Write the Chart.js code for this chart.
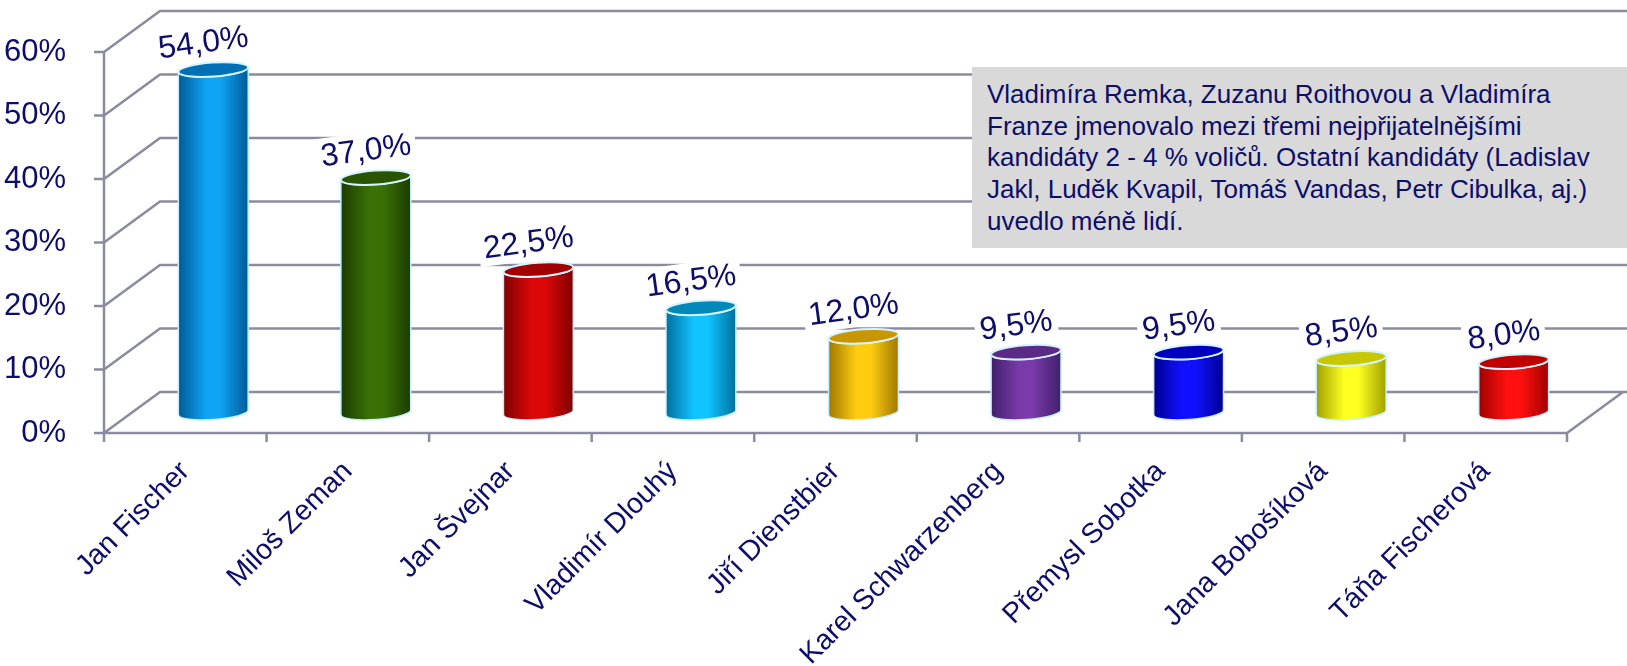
<!DOCTYPE html>
<html lang="cs">
<head>
<meta charset="utf-8">
<script src="https://cdn.jsdelivr.net/npm/chart.js@4.4.1/dist/chart.umd.min.js"></script>
<style>
  html, body { margin: 0; padding: 0; background: #fff; }
  #wrap { position: relative; width: 1627px; height: 666px; }
  #note {
    position: absolute; left: 972px; top: 67px; width: 640px; height: 169px;
    padding: 12px 0 0 15px; background: #d9d9d9; color: #0d0d6b;
    font: 26px "Liberation Sans", Arial, sans-serif; line-height: 31.7px; white-space: nowrap;
  }
</style>
</head>
<body>
<div id="wrap">
  <canvas id="chart"></canvas>
  <div id="note">Vladimíra Remka, Zuzanu Roithovou a Vladimíra<br>Franze jmenovalo mezi třemi nejpřijatelnějšími<br>kandidáty 2 - 4 % voličů. Ostatní kandidáty (Ladislav<br>Jakl, Luděk Kvapil, Tomáš Vandas, Petr Cibulka, aj.)<br>uvedlo méně lidí.</div>
</div>
<script>
const candidates = ["Jan Fischer", "Miloš Zeman", "Jan Švejnar", "Vladimír Dlouhý", "Jiří Dienstbier",
  "Karel Schwarzenberg", "Přemysl Sobotka", "Jana Bobošíková", "Táňa Fischerová"];
const shares = [54.0, 37.0, 22.5, 16.5, 12.0, 9.5, 9.5, 8.5, 8.0];
const yTicks = [0, 10, 20, 30, 40, 50, 60];

// [edge, highlight, cap]
const barColors = [
  ["#005a96", "#10a4f4", "#0070b4"],
  ["#1c3c00", "#3a7004", "#2a5400"],
  ["#800000", "#dc0808", "#a00000"],
  ["#00709e", "#10c4ff", "#0088b8"],
  ["#a07800", "#ffcc10", "#c89600"],
  ["#40206a", "#7a3aaa", "#5a2a86"],
  ["#000090", "#1010ff", "#0000c0"],
  ["#a0a000", "#ffff20", "#c8c800"],
  ["#a00000", "#ff1010", "#c00000"]
];

const NAVY = "#0d0d6b";
const GRID = "#8a8aa0";
const FONT = '"Liberation Sans", Arial, sans-serif';
const DX = 56, DY = -41;

function fmt(v) {
  return v.toFixed(1).replace(".", ",") + "%";
}

function drawCylinder(ctx, cx, top, bottom, w, col) {
  const rx = w / 2, ry = 7, tilt = -0.07;
  const g = ctx.createLinearGradient(cx - rx, 0, cx + rx, 0);
  g.addColorStop(0, col[0]);
  g.addColorStop(0.4, col[1]);
  g.addColorStop(0.6, col[1]);
  g.addColorStop(1, col[0]);

  ctx.save();
  ctx.beginPath();
  ctx.moveTo(cx - rx, top);
  ctx.lineTo(cx - rx, bottom);
  ctx.ellipse(cx, bottom, rx, ry, tilt, Math.PI, 0, true);
  ctx.lineTo(cx + rx, top);
  ctx.ellipse(cx, top, rx, ry, tilt, 0, Math.PI, false);
  ctx.closePath();
  ctx.fillStyle = g;
  ctx.fill();
  ctx.strokeStyle = "#c4f0ff";
  ctx.lineWidth = 1.5;
  ctx.stroke();

  ctx.beginPath();
  ctx.ellipse(cx, top, rx, ry, tilt, 0, Math.PI * 2);
  ctx.fillStyle = col[2];
  ctx.fill();
  ctx.lineWidth = 2;
  ctx.strokeStyle = "#d4f4ff";
  ctx.stroke();
  ctx.restore();
}

const box3d = {
  id: "box3d",
  beforeDatasetsDraw(chart) {
    const { ctx, chartArea: a, scales: { y } } = chart;
    ctx.save();
    ctx.strokeStyle = GRID;
    ctx.lineWidth = 2.5;
    ctx.beginPath();
    y.ticks.forEach(t => {
      const py = y.getPixelForValue(t.value);
      ctx.moveTo(a.left, py);
      ctx.lineTo(a.left + DX, py + DY);
      ctx.lineTo(chart.width, py + DY);
      // front tick marks
      ctx.moveTo(a.left - 10, py);
      ctx.lineTo(a.left, py);
    });
    // front y axis
    ctx.moveTo(a.left, a.top);
    ctx.lineTo(a.left, a.bottom);
    // floor front edge and right edge
    ctx.moveTo(a.left, a.bottom);
    ctx.lineTo(a.right, a.bottom);
    ctx.lineTo(a.right + DX, a.bottom + DY);
    // category ticks
    const step = (a.right - a.left) / candidates.length;
    for (let i = 0; i <= candidates.length; i++) {
      const px = a.left + i * step;
      ctx.moveTo(px, a.bottom);
      ctx.lineTo(px, a.bottom + 9);
    }
    ctx.stroke();
    ctx.restore();
  },
  afterDatasetsDraw(chart) {
    const { ctx } = chart;
    const meta = chart.getDatasetMeta(0);
    meta.data.forEach((el, i) => {
      const cx = el.x + DX / 2;
      const top = el.y + DY / 2;
      const bottom = el.base + DY / 2;
      drawCylinder(ctx, cx, top, bottom, el.width, barColors[i]);
    });
    meta.data.forEach((el, i) => {
      const cx = el.x + DX / 2 - 10;
      const cy = el.y + DY / 2 - 27;
      const txt = fmt(shares[i]);
      ctx.save();
      ctx.translate(cx, cy);
      ctx.rotate(-0.135);
      ctx.font = "32px " + FONT;
      const tw = ctx.measureText(txt).width;
      ctx.fillStyle = "#fff";
      ctx.fillRect(-tw / 2 - 5, -18, tw + 10, 36);
      ctx.fillStyle = NAVY;
      ctx.textAlign = "center";
      ctx.textBaseline = "middle";
      ctx.fillText(txt, 0, 1);
      ctx.restore();
    });
  }
};

new Chart(document.getElementById("chart"), {
  type: "bar",
  data: {
    labels: candidates,
    datasets: [{
      data: shares,
      backgroundColor: "rgba(0,0,0,0)",
      borderWidth: 0,
      categoryPercentage: 1,
      barPercentage: 0.43
    }]
  },
  options: {
    responsive: true,
    maintainAspectRatio: false,
    animation: false,
    layout: { padding: { top: 52, right: 60, left: 0, bottom: 0 } },
    plugins: { legend: { display: false }, tooltip: { enabled: false } },
    scales: {
      y: {
        min: 0,
        max: 60,
        afterBuildTicks(scale) {
          scale.ticks = yTicks.map(v => ({ value: v }));
        },
        afterFit(scale) { scale.width = 104; },
        grid: { display: false },
        border: { display: false },
        ticks: {
          padding: 30,
          color: NAVY,
          font: { size: 31, family: FONT },
          callback: v => v + "%"
        }
      },
      x: {
        afterFit(scale) { scale.height = 233; },
        grid: { display: false },
        border: { display: false },
        ticks: {
          minRotation: 45,
          maxRotation: 45,
          padding: 14,
          color: NAVY,
          font: { size: 28.5, family: FONT }
        }
      }
    }
  },
  plugins: [box3d]
});
</script>
</body>
</html>
